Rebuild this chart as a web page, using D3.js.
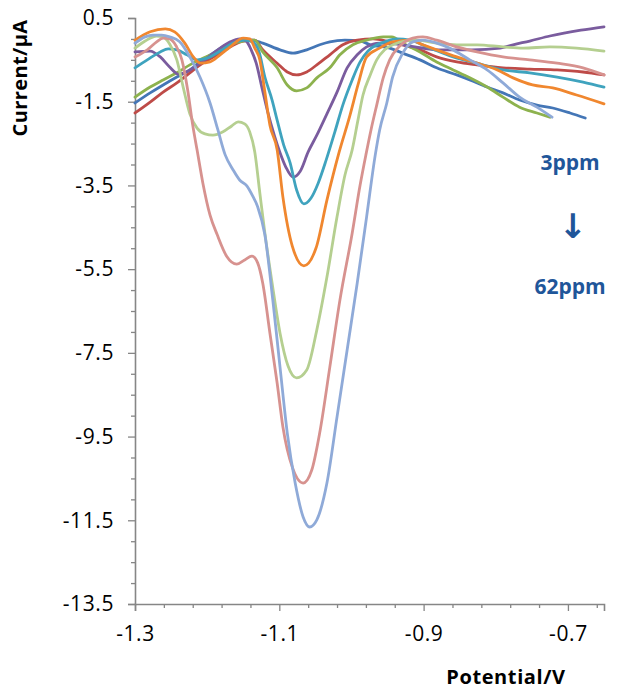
<!DOCTYPE html>
<html>
<head>
<meta charset="utf-8">
<script src="https://cdn.jsdelivr.net/npm/d3@7"></script>
<style>
  html, body { margin: 0; padding: 0; background: #fff; }
  text { font-family: "Open Sans", "Noto Sans", sans-serif; }
</style>
</head>
<body>
<div id="chart"></div>
<script>
const width = 620,
  height = 689,
  plot = { left: 135, right: 604, top: 18, bottom: 604 };

// series, 3ppm -> 62ppm: [potential V, current uA]
const names = ["s1", "s2", "s3", "s4", "s5", "s6", "s7", "s8", "s9"];
const colors = ["#4476B6", "#BE4B48", "#8DB24E", "#7A5C9E", "#3FA3BE", "#F0872F", "#B5CF90", "#D7928F", "#8FAAD8"];

const s1 = [[-1.300,-1.53],[-1.279,-1.29],[-1.261,-1.10],[-1.242,-0.91],[-1.224,-0.74],[-1.210,-0.55],[-1.192,-0.34],[-1.173,-0.14],[-1.155,-0.03],[-1.137,-0.03],[-1.123,-0.10],[-1.099,-0.26],[-1.081,-0.34],[-1.062,-0.26],[-1.044,-0.14],[-1.030,-0.07],[-1.009,-0.03],[-0.988,-0.05],[-0.974,-0.14],[-0.947,-0.22],[-0.929,-0.34],[-0.905,-0.50],[-0.882,-0.69],[-0.854,-0.86],[-0.836,-0.98],[-0.812,-1.15],[-0.790,-1.29],[-0.767,-1.46],[-0.743,-1.58],[-0.721,-1.65],[-0.697,-1.77],[-0.676,-1.89]];
const s2 = [[-1.300,-1.77],[-1.279,-1.51],[-1.261,-1.27],[-1.242,-1.05],[-1.224,-0.81],[-1.206,-0.58],[-1.186,-0.38],[-1.168,-0.19],[-1.150,-0.05],[-1.134,-0.03],[-1.123,-0.26],[-1.103,-0.58],[-1.089,-0.79],[-1.076,-0.86],[-1.062,-0.79],[-1.048,-0.62],[-1.030,-0.38],[-1.012,-0.14],[-0.992,-0.03],[-0.970,0.00],[-0.947,-0.07],[-0.929,-0.14],[-0.905,-0.26],[-0.882,-0.43],[-0.854,-0.55],[-0.826,-0.62],[-0.790,-0.69],[-0.753,-0.72],[-0.715,-0.74],[-0.679,-0.79],[-0.650,-0.86]];
const s3 = [[-1.300,-1.39],[-1.279,-1.15],[-1.261,-0.98],[-1.242,-0.81],[-1.224,-0.62],[-1.206,-0.46],[-1.186,-0.31],[-1.168,-0.14],[-1.150,-0.05],[-1.134,-0.03],[-1.123,-0.31],[-1.103,-0.69],[-1.089,-1.10],[-1.076,-1.24],[-1.062,-1.17],[-1.048,-0.93],[-1.030,-0.69],[-1.016,-0.38],[-0.998,-0.14],[-0.979,-0.03],[-0.956,0.05],[-0.944,0.05],[-0.929,-0.10],[-0.905,-0.31],[-0.882,-0.55],[-0.859,-0.74],[-0.836,-0.93],[-0.812,-1.15],[-0.790,-1.39],[-0.767,-1.63],[-0.743,-1.77],[-0.725,-1.87]];
const s4 = [[-1.300,-0.31],[-1.279,-0.29],[-1.265,-0.43],[-1.252,-0.67],[-1.240,-0.84],[-1.229,-0.79],[-1.217,-0.67],[-1.200,-0.46],[-1.182,-0.22],[-1.168,-0.07],[-1.155,0.00],[-1.146,-0.05],[-1.139,-0.26],[-1.132,-0.58],[-1.124,-1.17],[-1.116,-1.75],[-1.107,-2.30],[-1.099,-2.72],[-1.091,-3.06],[-1.081,-3.30],[-1.071,-3.16],[-1.060,-2.70],[-1.048,-2.30],[-1.034,-1.79],[-1.020,-1.27],[-1.006,-0.69],[-0.992,-0.38],[-0.979,-0.19],[-0.961,-0.10],[-0.940,-0.12],[-0.912,-0.19],[-0.880,-0.26],[-0.833,-0.26],[-0.794,-0.22],[-0.776,-0.14],[-0.753,-0.05],[-0.725,0.07],[-0.682,0.21],[-0.650,0.29]];
const s5 = [[-1.300,-0.69],[-1.283,-0.50],[-1.265,-0.31],[-1.254,-0.24],[-1.242,-0.26],[-1.228,-0.38],[-1.214,-0.50],[-1.200,-0.46],[-1.182,-0.29],[-1.164,-0.10],[-1.148,-0.03],[-1.137,-0.07],[-1.128,-0.31],[-1.120,-0.91],[-1.110,-1.46],[-1.103,-1.94],[-1.094,-2.53],[-1.085,-2.96],[-1.076,-3.61],[-1.066,-3.94],[-1.056,-3.80],[-1.046,-3.44],[-1.035,-2.89],[-1.023,-2.22],[-1.012,-1.58],[-0.999,-0.98],[-0.988,-0.55],[-0.977,-0.29],[-0.965,-0.14],[-0.954,-0.07],[-0.937,0.00],[-0.919,-0.03],[-0.891,-0.22],[-0.859,-0.43],[-0.826,-0.58],[-0.790,-0.74],[-0.753,-0.81],[-0.715,-0.91],[-0.679,-1.03],[-0.650,-1.15]];
const s6 = [[-1.300,-0.03],[-1.279,0.17],[-1.258,0.24],[-1.245,0.17],[-1.231,-0.10],[-1.220,-0.41],[-1.209,-0.58],[-1.196,-0.55],[-1.182,-0.38],[-1.168,-0.19],[-1.150,0.02],[-1.141,0.00],[-1.134,-0.22],[-1.127,-0.50],[-1.120,-1.27],[-1.113,-2.06],[-1.103,-2.65],[-1.095,-3.78],[-1.082,-4.95],[-1.066,-5.42],[-1.049,-4.99],[-1.034,-3.85],[-1.017,-2.70],[-1.002,-1.82],[-0.991,-1.10],[-0.979,-0.43],[-0.961,-0.22],[-0.943,-0.07],[-0.919,-0.03],[-0.901,-0.14],[-0.882,-0.26],[-0.854,-0.43],[-0.826,-0.58],[-0.798,-0.74],[-0.776,-0.93],[-0.749,-1.10],[-0.721,-1.17],[-0.688,-1.34],[-0.650,-1.55]];
const s7 = [[-1.300,-0.22],[-1.286,-0.05],[-1.270,0.07],[-1.261,0.05],[-1.252,-0.12],[-1.242,-0.50],[-1.233,-1.17],[-1.224,-1.79],[-1.214,-2.13],[-1.203,-2.27],[-1.192,-2.30],[-1.178,-2.22],[-1.166,-2.08],[-1.157,-1.98],[-1.148,-2.03],[-1.141,-2.22],[-1.134,-2.70],[-1.127,-3.68],[-1.120,-4.64],[-1.110,-5.83],[-1.099,-7.03],[-1.088,-7.81],[-1.076,-8.10],[-1.062,-7.91],[-1.048,-6.95],[-1.034,-5.69],[-1.020,-4.25],[-1.009,-3.25],[-0.999,-2.65],[-0.991,-1.94],[-0.984,-1.34],[-0.974,-0.86],[-0.965,-0.50],[-0.954,-0.26],[-0.940,-0.12],[-0.926,-0.05],[-0.909,-0.03],[-0.882,-0.10],[-0.854,-0.14],[-0.826,-0.14],[-0.790,-0.19],[-0.762,-0.22],[-0.725,-0.19],[-0.688,-0.22],[-0.650,-0.29]];
const s8 = [[-1.300,-0.43],[-1.283,-0.26],[-1.270,-0.07],[-1.261,0.02],[-1.252,0.00],[-1.243,-0.17],[-1.235,-0.50],[-1.227,-1.22],[-1.220,-2.06],[-1.214,-2.65],[-1.206,-3.44],[-1.196,-4.21],[-1.186,-4.68],[-1.173,-5.19],[-1.159,-5.38],[-1.148,-5.28],[-1.138,-5.19],[-1.130,-5.35],[-1.123,-5.83],[-1.113,-7.03],[-1.103,-8.22],[-1.095,-9.27],[-1.082,-10.23],[-1.067,-10.61],[-1.055,-10.30],[-1.044,-9.41],[-1.030,-7.84],[-1.016,-6.24],[-0.999,-4.64],[-0.988,-3.49],[-0.980,-2.77],[-0.973,-2.18],[-0.965,-1.58],[-0.956,-0.93],[-0.947,-0.50],[-0.933,-0.17],[-0.915,0.02],[-0.901,0.05],[-0.882,-0.03],[-0.854,-0.19],[-0.826,-0.31],[-0.790,-0.43],[-0.753,-0.50],[-0.715,-0.58],[-0.679,-0.69],[-0.650,-0.86]];
const s9 = [[-1.300,-0.10],[-1.286,0.05],[-1.275,0.09],[-1.263,0.09],[-1.252,0.05],[-1.238,-0.07],[-1.224,-0.43],[-1.210,-0.91],[-1.196,-1.53],[-1.185,-2.18],[-1.175,-2.77],[-1.164,-3.13],[-1.155,-3.37],[-1.145,-3.51],[-1.137,-3.75],[-1.130,-4.01],[-1.120,-4.68],[-1.109,-6.24],[-1.099,-7.84],[-1.089,-9.41],[-1.078,-10.61],[-1.067,-11.42],[-1.058,-11.66],[-1.048,-11.49],[-1.034,-10.61],[-1.020,-9.03],[-1.006,-7.43],[-0.992,-5.83],[-0.979,-4.25],[-0.967,-2.77],[-0.961,-2.18],[-0.951,-1.53],[-0.943,-0.91],[-0.929,-0.34],[-0.915,-0.07],[-0.901,-0.03],[-0.882,-0.10],[-0.864,-0.22],[-0.836,-0.50],[-0.812,-0.74],[-0.790,-1.05],[-0.767,-1.39],[-0.743,-1.63],[-0.722,-1.87]];
const series = [s1, s2, s3, s4, s5, s6, s7, s8, s9];

const xMajor = [-1.3, -1.1, -0.9, -0.7];
const xMinor = [-1.26, -1.22, -1.18, -1.14, -1.06, -1.02, -0.98, -0.94, -0.86, -0.82, -0.78, -0.74, -0.66];
const yMajor = [0.5, -1.5, -3.5, -5.5, -7.5, -9.5, -11.5, -13.5];
const yMinor = d3.range(0.5, -13.6, -0.5).filter(v => !yMajor.some(m => Math.abs(m - v) < 1e-9));
const annotations = ["3ppm", "\u2193", "62ppm"];

const x = d3.scaleLinear().domain([-1.3, -0.65]).range([plot.left, plot.right]);
const y = d3.scaleLinear().domain([-13.5, 0.5]).range([plot.bottom, plot.top]);

const svg = d3.select("#chart").append("svg")
  .attr("width", width)
  .attr("height", height);

const axisColor = "#868686";

// y axis: minor ticks first, then majors with labels
svg.append("g")
  .attr("transform", `translate(${plot.left},0)`)
  .call(d3.axisLeft(y).tickValues(yMinor).tickSize(4).tickFormat(""))
  .call(g => g.select(".domain").remove())
  .call(g => g.selectAll("line").attr("stroke", axisColor).attr("stroke-width", 1.3));

const yAxis = svg.append("g")
  .attr("transform", `translate(${plot.left},0)`)
  .call(d3.axisLeft(y).tickValues(yMajor).tickSize(7).tickPadding(14)
    .tickFormat(d => d.toFixed(1)));
yAxis.select(".domain").attr("stroke", axisColor).attr("stroke-width", 1.6);
yAxis.selectAll("line").attr("stroke", axisColor).attr("stroke-width", 1.3);
yAxis.selectAll("text")
  .attr("fill", "#000")
  .style("font-size", "21px")
  .style("letter-spacing", "0.6px")
  .style("font-family", "\"Open Sans\", sans-serif");

// x axis
svg.append("g")
  .attr("transform", `translate(0,${plot.bottom})`)
  .call(d3.axisBottom(x).tickValues(xMinor).tickSize(4).tickFormat(""))
  .call(g => g.select(".domain").remove())
  .call(g => g.selectAll("line").attr("stroke", axisColor).attr("stroke-width", 1.3));

const xAxis = svg.append("g")
  .attr("transform", `translate(0,${plot.bottom})`)
  .call(d3.axisBottom(x).tickValues(xMajor).tickSize(7).tickPadding(15)
    .tickFormat(d => d.toFixed(1)));
xAxis.select(".domain").attr("stroke", axisColor).attr("stroke-width", 1.6);
xAxis.selectAll("line").attr("stroke", axisColor).attr("stroke-width", 1.3);
xAxis.selectAll("text")
  .attr("fill", "#000")
  .style("font-size", "21px")
  .style("letter-spacing", "0.6px")
  .style("font-family", "\"Open Sans\", sans-serif");

// lines
const line = d3.line()
  .x(d => x(d[0]))
  .y(d => y(d[1]))
  .curve(d3.curveMonotoneX);

svg.append("g")
  .attr("class", "series")
  .selectAll("path")
  .data(series)
  .join("path")
  .attr("class", (d, i) => names[i])
  .attr("d", line)
  .attr("fill", "none")
  .attr("stroke", (d, i) => colors[i])
  .attr("stroke-width", 2.8)
  .attr("stroke-linejoin", "round")
  .attr("stroke-linecap", "round");

// axis titles
svg.append("text")
  .attr("transform", "translate(27,78) rotate(-90)")
  .attr("text-anchor", "middle")
  .attr("font-weight", "bold")
  .attr("font-size", 20)
  .attr("letter-spacing", 0.4)
  .text("Current/\u00B5A");

svg.append("text")
  .attr("x", 506)
  .attr("y", 684)
  .attr("text-anchor", "middle")
  .attr("font-weight", "bold")
  .attr("font-size", 20)
  .attr("letter-spacing", 0.6)
  .text("Potential/V");

// concentration note
const noteY = [170, 238, 294];
svg.append("g")
  .selectAll("text")
  .data(annotations)
  .join("text")
  .attr("x", (d, i) => i === 1 ? 573 : 570)
  .attr("y", (d, i) => noteY[i])
  .attr("text-anchor", "middle")
  .attr("font-weight", "bold")
  .attr("font-size", (d, i) => i === 1 ? 34 : 21)
  .style("font-family", (d, i) => i === 1 ? "\"DejaVu Sans\", sans-serif" : null)
  .attr("fill", "#1F569A")
  .text(d => d);
</script>
</body>
</html>
